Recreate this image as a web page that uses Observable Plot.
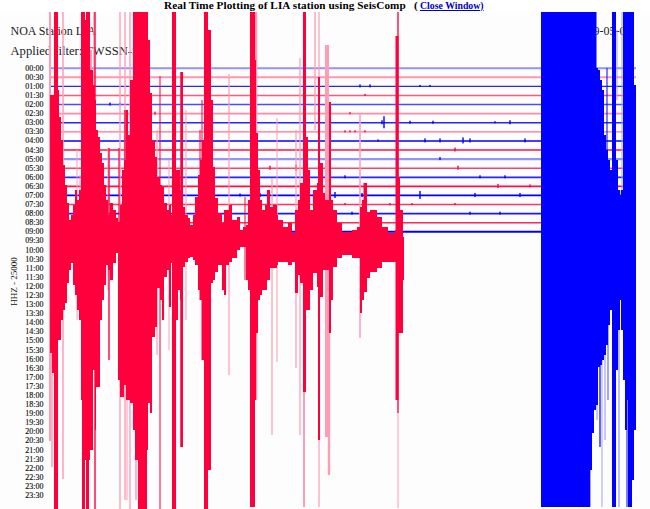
<!DOCTYPE html>
<html><head><meta charset="utf-8">
<script src="https://cdn.jsdelivr.net/npm/d3@7"></script>
<script src="https://cdn.jsdelivr.net/npm/@observablehq/plot@0.6"></script>
<style>
html,body{margin:0;padding:0;background:#fff}
#title{height:12px;width:650px;position:relative;font:bold 11.2px "Liberation Serif",serif;line-height:11px;white-space:nowrap}
#title span{position:absolute;left:164px;top:0;letter-spacing:.08px}
#title b{position:absolute;left:414px;top:0}
#title a{position:absolute;left:420px;top:0;color:#0000cc;font-size:9.8px}
svg{display:block}
</style></head><body>
<div id="title"><span>Real Time Plotting of LIA station using SeisComp</span><b>(</b><a href="#">Close Window)</a></div>
<div id="chart"></div>
<script>
// Drum readings: x = sweep position, y = drum line (converted to minutes below)
const timeLabels = ["00:00","00:30","01:00","01:30","02:00","02:30","03:00","03:30","04:00","04:30","05:00","05:30","06:00","06:30","07:00","07:30","08:00","08:30","09:00","09:30","10:00","10:30","11:00","11:30","12:00","12:30","13:00","13:30","14:00","14:30","15:00","15:30","16:00","16:30","17:00","17:30","18:00","18:30","19:00","19:30","20:00","20:30","21:00","21:30","22:00","22:30","23:00","23:30"];
const rowOpacity = [.42,.4,.85,.65,.7,.45,.85,.55,1,.95,.42,.75,.85,.95,1,.8,.9,.85,1];
const rowWidth   = [2,2,1.4,1.4,1.4,1.8,1.6,1.3,1.6,1.6,2.2,1.4,1.7,1.6,1.8,1.5,1.6,1.5,2];

const redX = [50,52,54,58,59,61,63,65,67,69,
  71,73,75,77,79,81,82,85,86,89,
  90,93,95,96,98,100,102,104,106,108,
  110,113,116,118,120,122,124,126,128,130,
  133,135,138,147,148,150,152,155,157,160,
  162,164,167,169,171,173,176,178,180,181,
  183,185,188,190,193,195,198,200,202,204,
  208,211,213,215,218,222,224,226,229,232,
  237,240,243,246,248,250,255,256,258,260,
  262,265,267,270,273,277,278,283,288,292,
  295,298,300,303,306,308,310,313,317,318,
  320,323,325,329,331,333,337,342,352,357,
  360,362,364,367,370,373,377,382,388,395,
  397,400,403,404];
const redTop = [95,95,12,90,117,140,165,185,203,220,
  215,205,190,200,190,12,12,20,12,12,
  70,85,100,130,137,153,163,185,200,215,
  203,210,218,222,205,170,160,110,135,80,
  12,12,12,12,40,93,140,157,177,185,
  187,203,210,205,215,12,170,170,190,72,
  207,215,218,225,215,197,175,160,140,12,
  30,100,167,198,213,223,210,210,205,220,
  217,230,227,225,200,12,60,133,170,200,
  210,205,190,207,205,215,220,227,223,233,
  210,200,183,12,137,170,210,190,183,77,
  163,193,200,102,200,210,223,232,230,227,
  207,200,183,212,210,210,217,227,233,230,
  177,210,237,280];
const redBottom = [353,373,509,340,340,320,310,303,283,270,
  263,285,295,310,320,400,509,460,509,460,
  450,370,430,387,387,320,300,285,265,270,
  280,263,253,380,397,397,385,400,400,403,
  430,460,509,450,403,413,337,327,288,300,
  320,277,270,307,263,509,320,290,300,447,
  267,262,258,257,260,265,290,300,360,509,
  470,283,280,272,265,290,295,265,262,258,
  250,247,247,280,290,507,400,333,300,295,
  290,290,280,268,268,265,262,262,265,262,
  293,275,283,392,310,310,290,273,287,440,
  297,270,270,333,300,267,258,255,258,258,
  313,300,292,278,272,272,268,262,262,262,
  333,333,280,280];

const redSolidSpikeX = [95,109,119,125,160,173,181,200,245,319,398,397,364,202];
const redSolidSpikeW = [1.4,1.4,1.2,1.4,1,2,1.5,1,1,2,1.2,3,1,1];
const redSolidSpikeTop = [12,148,148,110,76,12,72,130,197,77,12,36,183,100];
const redSolidSpikeBottom = [509,360,340,345,509,509,447,300,280,440,413,400,290,360];

const redPaleSpikeX = [50,52,63,77,80,94,120,125,130,127,
  136,157,169,186,229,256,277,272,296,300,
  304,315,319,327,329,360,398,210,91,108];
const redPaleSpikeW = [2,1.5,1.5,1,1,1.5,1.4,1.4,1.4,1,
  1.5,1.2,1,1,1.2,2.4,1,1.2,1.2,1.2,
  2,1.4,1.2,4,2.4,1.5,1,2,2,1];
const redPaleSpikeTop = [12,100,12,150,175,12,12,12,12,200,
  12,130,160,110,74,12,118,178,130,58,
  392,12,12,45,333,113,12,260,50,148];
const redPaleSpikeBottom = [441,467,479,320,268,300,509,500,509,500,
  500,355,350,320,375,400,362,435,368,435,
  507,130,507,437,475,338,508,470,400,290];

const blueX = [541,587,590,592,594,596,598,600,602,604,
  606,608,610,612,616,618,620,621,623,625,
  627,628,630,632,634,636];
const blueTop = [12,12,12,12,40,68,70,80,90,135,
  150,160,170,12,160,190,195,190,12,12,
  12,12,12,12,85,85];
const blueBottom = [507,507,470,433,410,405,367,365,360,355,
  345,325,310,507,370,330,300,330,380,430,
  400,507,507,480,430,430];

const blueSolidSpikeX = [595,600,613,607,627];
const blueSolidSpikeW = [3,1.2,1.5,1,1];
const blueSolidSpikeTop = [12,320,300,68,400];
const blueSolidSpikeBottom = [70,447,507,180,507];
const bluePaleSpikeX = [587,590,593,602,608,617,622,619,605,597,620];
const bluePaleSpikeW = [5,2,1.5,1,2,1,1,1.4,1.2,1.2,1];
const bluePaleSpikeTop = [470,430,12,330,300,30,12,300,300,360,190];
const bluePaleSpikeBottom = [507,507,70,507,400,100,205,507,440,420,300];

const blipX = [384,463,470,425,440,365,345,355,350,455,
  458,110,120,138,155,175,240,260,270,296,
  335,362,420,475,390,412,455,498,530,250,
  100,85,75,155,352,340,330,300,288,345,
  378,382,495,510,360,370,420,430,365,350,
  410,433,520,480,505,525,345,440,470,500];
const blipRow = [6,8,8,8,8,7,7,7,7,9,
  11,4,4,4,5,5,14,14,11,11,
  14,14,14,14,15,15,15,13,13,16,
  16,16,16,10,16,18,18,18,18,15,
  8,6,6,6,2,2,2,2,3,5,
  6,6,14,12,12,8,12,10,16,16];
const blipSize = [6,3,2,2,2,1,1,1,1,2,
  2,1.5,1.5,1,1.5,1.5,1.5,2,2,3,
  3,2,4,2,1,1,1,2,1.5,3,
  2,3,2,1,1.5,2,3,1,1,1,
  1,2,1,2,1.5,1.5,1,1,1,1,
  1.5,1.5,2,1.5,1.5,2,1.5,1.5,1.5,1.5];

// conversion of a drum reading to minutes of the day (one half-hour row = 9.09 readings)
const toMin = d => (d - 67.7) * 3.3;
const RED = "#ff003c", PALE_RED = "#ff9db5", BLUE = "#0000ff", PALE_BLUE = "#a4a4ff";

const envelope = (X, T, B, fill) => Plot.area(X.map((_, i) => i), {
  x1: i => X[i], y1: i => toMin(T[i]), y2: i => toMin(B[i]), curve: "step-after", fill });
const spikes = (X, W, T, B, fill) => Plot.rect(X.map((_, i) => i), {
  x1: i => X[i] - W[i] / 2, x2: i => X[i] + W[i] / 2, y1: i => toMin(T[i]), y2: i => toMin(B[i]), fill });

const rows = rowOpacity.map((_, i) => i);
const serif = "Liberation Serif";

document.getElementById("chart").append(Plot.plot({
  width: 650, height: 497, margin: 0,
  style: {background: "#fdfdfd"},
  x: {domain: [0, 650], range: [0, 650], axis: null},
  y: {domain: [toMin(12), toMin(509)], range: [0, 497], axis: null},
  marks: [
    Plot.text(["NOA Station LIA"], {x: [10], y: [toMin(30.5)], text: d => d, textAnchor: "start", fontFamily: serif, fontSize: 12, fill: "#222"}),
    Plot.text(["Applied filter: TWSSN-SP"], {x: [10], y: [toMin(50)], text: d => d, textAnchor: "start", fontFamily: serif, fontSize: 12.6, fill: "#222"}),
    Plot.text(["2009-05-08"], {x: [575], y: [toMin(31)], text: d => d, textAnchor: "start", fontFamily: serif, fontSize: 12, fill: "#222"}),
    Plot.text(timeLabels, {x: [...timeLabels].fill(43), y: (d, i) => i * 30, text: d => d, textAnchor: "end", fontFamily: serif, fontSize: 8, fill: "#111", stroke: "#111", strokeWidth: 0.15}),
    Plot.text(["HHZ - 25000"], {x: [14], y: [toMin(281)], text: d => d, rotate: -90, fontFamily: serif, fontSize: 9, fill: "#111"}),
    Plot.ruleY(rows, {y: i => i * 30, x1: 50, x2: 636, stroke: i => i % 2 ? RED : BLUE, strokeOpacity: i => rowOpacity[i], strokeWidth: i => rowWidth[i]}),
    Plot.rect(blipX.map((_, i) => i), {
      x1: i => blipX[i] - 0.7, x2: i => blipX[i] + 0.7,
      y1: i => blipRow[i] * 30 - blipSize[i] * 3.3, y2: i => blipRow[i] * 30 + blipSize[i] * 3.3,
      fill: i => blipRow[i] % 2 ? RED : BLUE}),
    spikes(redPaleSpikeX, redPaleSpikeW, redPaleSpikeTop, redPaleSpikeBottom, PALE_RED),
    envelope(redX, redTop, redBottom, RED),
    spikes(redSolidSpikeX, redSolidSpikeW, redSolidSpikeTop, redSolidSpikeBottom, RED),
    spikes(bluePaleSpikeX, bluePaleSpikeW, bluePaleSpikeTop, bluePaleSpikeBottom, PALE_BLUE),
    envelope(blueX, blueTop, blueBottom, BLUE),
    spikes(blueSolidSpikeX, blueSolidSpikeW, blueSolidSpikeTop, blueSolidSpikeBottom, BLUE)
  ]
}));
</script>
</body></html>
